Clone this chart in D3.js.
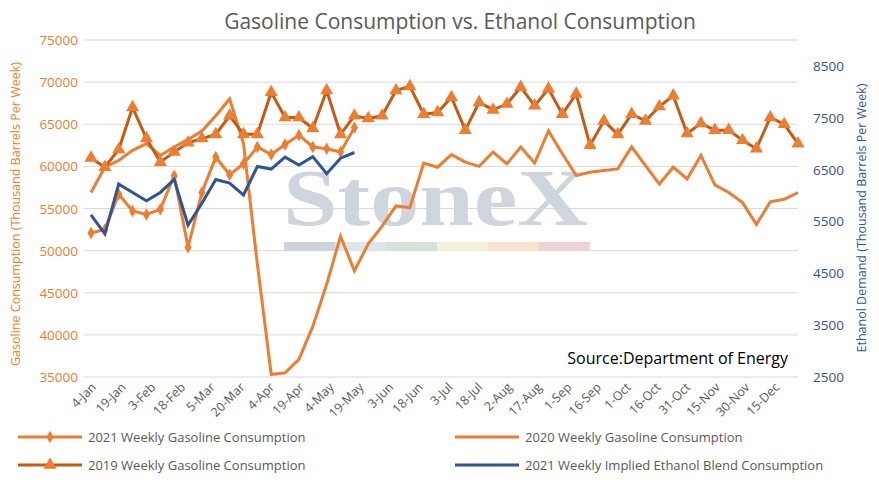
<!DOCTYPE html>
<html><head><meta charset="utf-8">
<script src="https://cdn.jsdelivr.net/npm/d3@7"></script>
<style>body{margin:0;background:#fff;font-family:"Open Sans",sans-serif}</style>
</head><body><svg id="chart" width="879" height="489"></svg>
<script>
const g2021 = [52100,52500,56700,54700,54300,54900,58900,50400,56900,61100,59000,60300,62300,61400,62600,63700,62300,62100,61700,64600]
const g2020 = [56900,59900,60700,61900,62700,61300,62300,63200,64200,66000,68000,62700,48400,35300,35500,37100,41000,46000,51700,47600,50800,52900,55300,55100,60400,59900,61400,60500,60000,61700,60300,62300,60400,64200,61500,58900,59300,59500,59700,62300,60100,57900,59900,58500,61300,57800,56900,55700,53100,55800,56100,56900]
const g2019 = [61000,59900,62000,67000,63300,60500,61700,62800,63300,63800,66000,63800,63800,68800,65800,65800,64500,69000,63800,66000,65700,66000,69000,69500,66200,66400,68200,64300,67600,66700,67400,69400,67200,69200,66200,68600,62500,65400,63800,66200,65400,67100,68400,63900,65100,64300,64300,63100,62100,65800,65000,62700]
const ethanol = [5625,5260,6220,6060,5900,6060,6310,5430,5850,6310,6240,6010,6560,6510,6740,6590,6750,6420,6720,6830]
const leftTicks = [35000,40000,45000,50000,55000,60000,65000,70000,75000]
const rightTicks = [2500,3500,4500,5500,6500,7500,8500]

const start = new Date(2021,0,4)
const week = i => d3.timeDay.offset(start, i*7)
const svg = d3.select("#chart")
const orange = "#ed7d31", dark = "#c55a11", blue = "#2f5597", grey = "#595959"

const x = d3.scaleTime().domain([start, week(51)]).range([91, 798])
const y = d3.scaleLinear().domain([35000,75000]).range([377,40])
const y2 = d3.scaleLinear().domain([2500,9000]).range([377,40])

// grid
svg.append("g").selectAll("line").data(leftTicks).join("line")
  .attr("x1",84).attr("x2",798).attr("y1",d=>y(d)).attr("y2",d=>y(d))
  .attr("stroke","#d9d9d9").attr("stroke-width",1)

// watermark
svg.append("text").attr("x",283).attr("y",225).attr("font-family","Liberation Serif,serif")
  .attr("font-size",80).attr("font-weight","bold").attr("fill","#cfd5dd")
  .attr("textLength",305).attr("lengthAdjust","spacingAndGlyphs").text("StoneX")
const wm = ["#cdd3dc","#dde6ee","#d5e3d8","#f3f2d8","#f6e4cc","#efd3d6"]
svg.append("g").selectAll("rect").data(wm).join("rect")
  .attr("x",(d,i)=>284+i*51).attr("y",242).attr("width",51).attr("height",9).attr("fill",d=>d)

// axes labels
svg.append("g").selectAll("text").data(leftTicks).join("text")
  .attr("x",78).attr("y",d=>y(d)+5).attr("text-anchor","end").attr("font-size",13.5)
  .attr("fill",orange).text(d=>d)
svg.append("g").selectAll("text").data(rightTicks).join("text")
  .attr("x",813).attr("y",d=>y2(d)+5).attr("font-size",13.5).attr("fill",blue).text(d=>d)

const xt = d3.timeDay.range(start, week(50), 15)
svg.append("g").selectAll("text").data(xt).join("text")
  .attr("text-anchor","end").attr("font-size",12.5).attr("fill",grey)
  .attr("transform",d=>`translate(${x(d)+6},${388}) rotate(-45)`)
  .text(d3.timeFormat("%-d-%b"))

svg.append("text").attr("transform","translate(20,214) rotate(-90)").attr("text-anchor","middle")
  .attr("font-size",12.5).attr("fill",orange).text("Gasoline Consumption (Thousand Barrels Per Week)")
svg.append("text").attr("transform","translate(866,218) rotate(-90)").attr("text-anchor","middle")
  .attr("font-size",12.5).attr("fill",blue).text("Ethanol Demand (Thousand Barrels Per Week)")
svg.append("text").attr("x",460).attr("y",29).attr("text-anchor","middle").attr("font-size",21)
  .attr("fill",grey).text("Gasoline Consumption vs. Ethanol Consumption")
svg.append("text").attr("x",788).attr("y",364).attr("text-anchor","end").attr("font-size",16)
  .attr("fill","#000").text("Source:Department of Energy")

const line = sc => d3.line().x((d,i)=>x(week(i))).y(d=>sc(d))
const tri = d3.symbol().type(d3.symbolTriangle).size(75)
const dia = d3.symbol().type(d3.symbolDiamond).size(45)

svg.append("path").datum(g2020).attr("d",line(y)).attr("fill","none").attr("stroke",orange).attr("stroke-width",3)
svg.append("path").datum(g2019).attr("d",line(y)).attr("fill","none").attr("stroke",dark).attr("stroke-width",3)
svg.append("g").selectAll("path").data(g2019).join("path").attr("d",tri)
  .attr("transform",(d,i)=>`translate(${x(week(i))},${y(d)})`).attr("fill",orange)
svg.append("path").datum(g2021).attr("d",line(y)).attr("fill","none").attr("stroke",orange).attr("stroke-width",3)
svg.append("g").selectAll("path").data(g2021).join("path").attr("d",dia)
  .attr("transform",(d,i)=>`translate(${x(week(i))},${y(d)})`).attr("fill",orange)
svg.append("path").datum(ethanol).attr("d",line(y2)).attr("fill","none").attr("stroke",blue).attr("stroke-width",3)

// legend
const leg = [
  {t:"2021 Weekly Gasoline Consumption",c:orange,m:dia,x:18,y:437},
  {t:"2020 Weekly Gasoline Consumption",c:orange,m:null,x:455,y:437},
  {t:"2019 Weekly Gasoline Consumption",c:dark,m:tri,x:18,y:465},
  {t:"2021 Weekly Implied Ethanol Blend Consumption",c:blue,m:null,x:455,y:465}]
const lg = svg.append("g").selectAll("g").data(leg).join("g").attr("transform",d=>`translate(${d.x},${d.y})`)
lg.append("line").attr("x1",0).attr("x2",64).attr("stroke",d=>d.c).attr("stroke-width",3)
lg.filter(d=>d.m).append("path").attr("d",d=>d.m()).attr("transform","translate(32,0)").attr("fill",orange)
lg.append("text").attr("x",70).attr("y",5).attr("font-size",13).attr("fill",grey).text(d=>d.t)
</script></body></html>
